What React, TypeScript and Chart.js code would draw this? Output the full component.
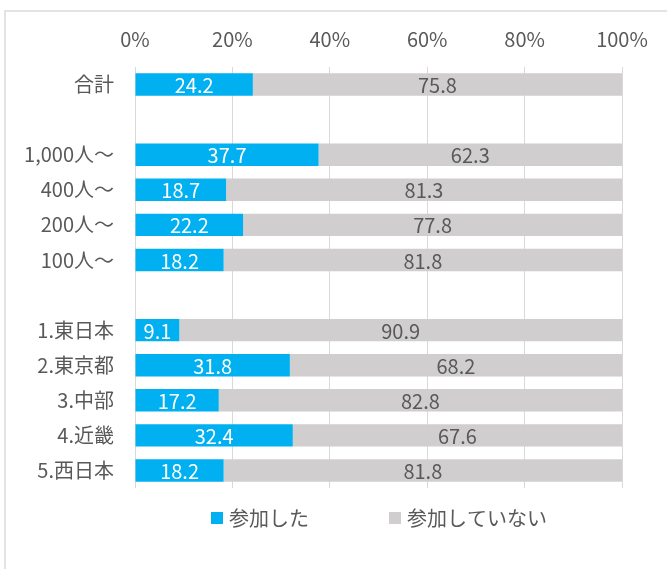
import React, { useEffect, useRef } from "react";
import { Chart, registerables } from "chart.js";

Chart.register(...registerables);

const categories = ["合計", "", "1,000人～", "400人～", "200人～", "100人～", "", "1.東日本", "2.東京都", "3.中部", "4.近畿", "5.西日本"];
const participated = [24.2, null, 37.7, 18.7, 22.2, 18.2, null, 9.1, 31.8, 17.2, 32.4, 18.2];
const notParticipated = [75.8, null, 62.3, 81.3, 77.8, 81.8, null, 90.9, 68.2, 82.8, 67.6, 81.8];
const seriesNames = ["参加した", "参加していない"];
const xTicks = [0, 20, 40, 60, 80, 100];

const FONT = "'Noto Sans CJK JP', 'Noto Sans', sans-serif";
const TEXT = "#595959";
const BLUE = "#00B0F0";
const GRAY = "#D0CECE";

const labelPlugin = {
  id: "barLabels",
  afterDatasetsDraw(chart: any) {
    const ctx = chart.ctx;
    ctx.save();
    ctx.font = `20px ${FONT}`;
    ctx.textAlign = "center";
    ctx.textBaseline = "middle";
    chart.data.datasets.forEach((ds: any, di: number) => {
      const meta = chart.getDatasetMeta(di);
      meta.data.forEach((el: any, i: number) => {
        const v = ds.data[i];
        if (v === null || v === undefined) return;
        const { x, y, base } = el.getProps(["x", "y", "base"], true);
        ctx.fillStyle = di === 0 ? "#FFFFFF" : TEXT;
        ctx.fillText(v.toFixed(1), (x + base) / 2, y + 1);
      });
    });
    ctx.restore();
  },
};

const legendPlugin = {
  id: "customLegend",
  afterDraw(chart: any) {
    const ctx = chart.ctx;
    const xs = [211, 389];
    const y = 518;
    ctx.save();
    ctx.font = `20px ${FONT}`;
    ctx.textAlign = "left";
    ctx.textBaseline = "middle";
    chart.data.datasets.forEach((ds: any, i: number) => {
      ctx.fillStyle = ds.backgroundColor;
      ctx.fillRect(xs[i], y - 6, 12, 12);
      ctx.fillStyle = TEXT;
      ctx.fillText(ds.label, xs[i] + 18, y);
    });
    ctx.restore();
  },
};

export default function App() {
  const ref = useRef<HTMLCanvasElement>(null);
  useEffect(() => {
    if (!ref.current) return;
    Chart.defaults.font.family = FONT;
    const chart = new Chart(ref.current, {
      type: "bar",
      data: {
        labels: categories,
        datasets: [
          { label: seriesNames[0], data: participated, backgroundColor: BLUE, categoryPercentage: 1, barPercentage: 0.64 },
          { label: seriesNames[1], data: notParticipated, backgroundColor: GRAY, categoryPercentage: 1, barPercentage: 0.64 },
        ],
      },
      options: {
        indexAxis: "y",
        responsive: false,
        animation: false,
        layout: { padding: { top: 0, right: 45, bottom: 81, left: 0 } },
        plugins: { legend: { display: false }, tooltip: { enabled: false } },
        scales: {
          x: {
            position: "top",
            stacked: true,
            min: 0,
            max: 100,
            afterBuildTicks: (s: any) => { s.ticks = xTicks.map((v) => ({ value: v })); },
            afterFit: (s: any) => { s.height = 67; },
            grid: { color: "#D9D9D9", lineWidth: 1, drawTicks: false },
            border: { display: false },
            ticks: { color: TEXT, font: { size: 20 }, padding: 16, callback: (v: any) => v + "%" },
          },
          y: {
            stacked: true,
            afterFit: (s: any) => { s.width = 135; },
            grid: { display: false, drawTicks: false },
            border: { display: false },
            ticks: { color: TEXT, font: { size: 20 }, padding: 21, autoSkip: false },
          },
        },
      },
      plugins: [labelPlugin, legendPlugin],
    });
    return () => chart.destroy();
  }, []);
  return (
    <div style={{ position: "absolute", left: 0, top: 0, width: 667, height: 569, overflow: "hidden", background: "#fff" }}>
      <div style={{ position: "absolute", left: 4, top: 10, width: 720, height: 620, border: "2px solid #E3E3E3" }} />
      <canvas ref={ref} width={667} height={569} style={{ position: "absolute", left: 0, top: 0 }} />
    </div>
  );
}
